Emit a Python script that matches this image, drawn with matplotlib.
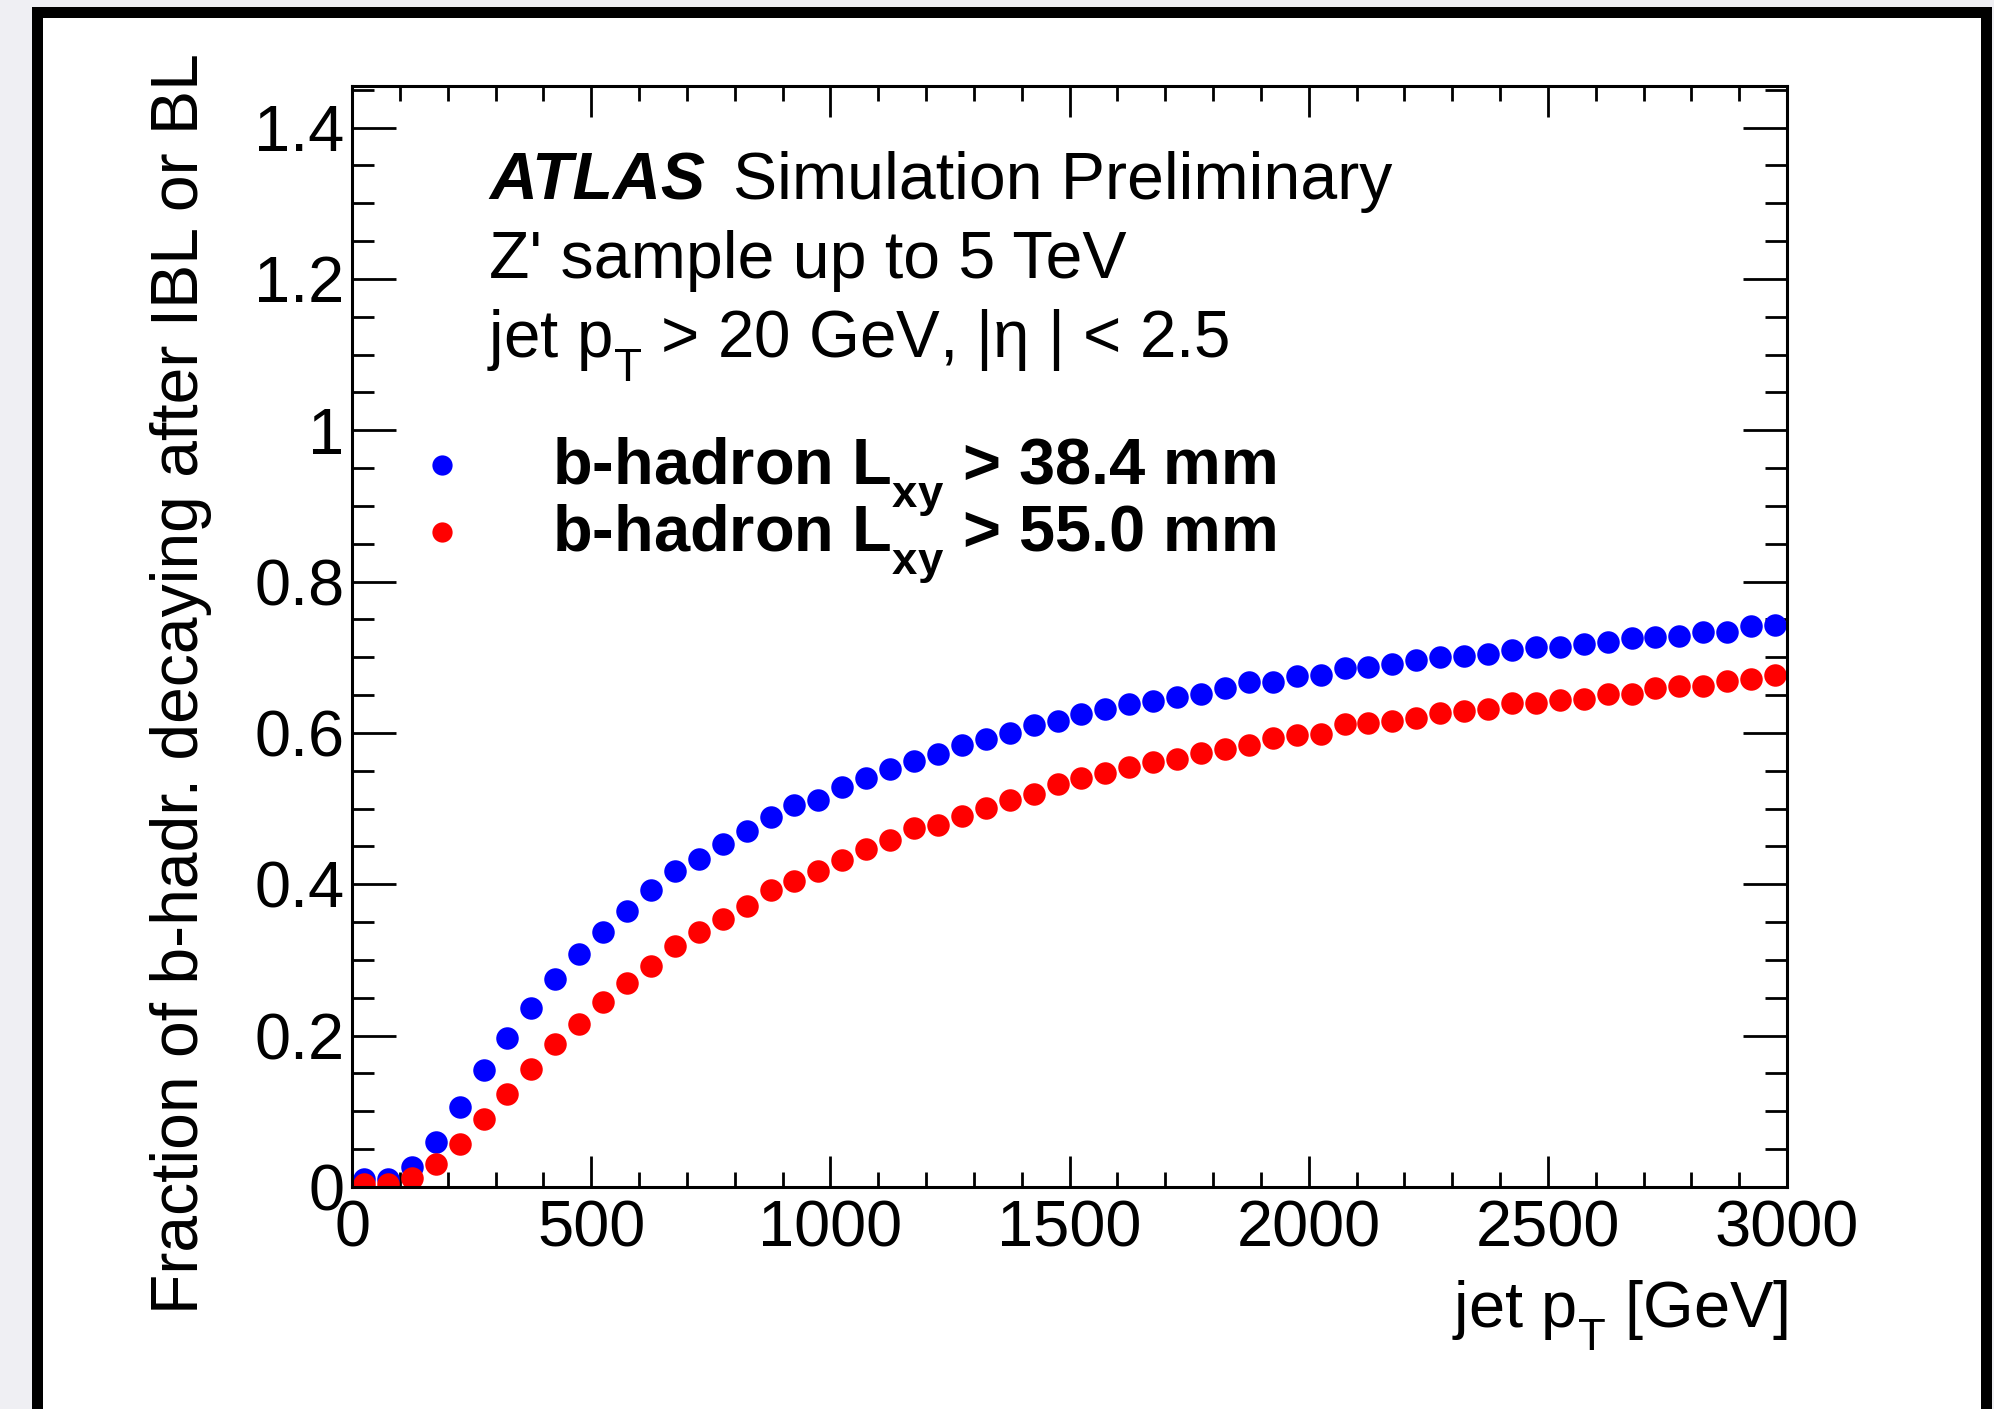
import matplotlib
matplotlib.use("Agg")
import matplotlib.pyplot as plt
from matplotlib.patches import Rectangle
from matplotlib.ticker import FixedLocator, FixedFormatter, MultipleLocator

# deeper subscripts, as in ROOT's TLatex
try:
    import matplotlib._mathtext as _mt
    _mt.FontConstantsBase.sub1 = 0.7
except Exception:
    pass

plt.rcParams['font.family'] = ['Liberation Sans', 'DejaVu Sans']
plt.rcParams['mathtext.fontset'] = 'custom'
plt.rcParams['mathtext.rm'] = 'Liberation Sans'
plt.rcParams['mathtext.it'] = 'Liberation Sans:italic'
plt.rcParams['mathtext.bf'] = 'Liberation Sans:bold'

# ---------------- data ----------------
jet_pt = [25, 75, 125, 175, 225, 275, 325, 375, 425, 475,
          525, 575, 625, 675, 725, 775, 825, 875, 925, 975,
          1025, 1075, 1125, 1175, 1225, 1275, 1325, 1375, 1425, 1475,
          1525, 1575, 1625, 1675, 1725, 1775, 1825, 1875, 1925, 1975,
          2025, 2075, 2125, 2175, 2225, 2275, 2325, 2375, 2425, 2475,
          2525, 2575, 2625, 2675, 2725, 2775, 2825, 2875, 2925, 2975]

frac_lxy_38p4 = [0.010, 0.010, 0.027, 0.059, 0.106, 0.154, 0.197, 0.237, 0.275, 0.308,
                 0.337, 0.365, 0.392, 0.417, 0.433, 0.453, 0.471, 0.489, 0.505, 0.511,
                 0.529, 0.541, 0.552, 0.563, 0.572, 0.584, 0.592, 0.600, 0.610, 0.616,
                 0.625, 0.632, 0.638, 0.642, 0.647, 0.652, 0.659, 0.667, 0.668, 0.675,
                 0.676, 0.686, 0.687, 0.691, 0.696, 0.701, 0.702, 0.704, 0.710, 0.714,
                 0.714, 0.718, 0.720, 0.726, 0.727, 0.728, 0.733, 0.733, 0.741, 0.743]

frac_lxy_55p0 = [0.004, 0.004, 0.012, 0.030, 0.057, 0.090, 0.123, 0.156, 0.189, 0.215,
                 0.244, 0.269, 0.292, 0.318, 0.337, 0.354, 0.372, 0.392, 0.404, 0.418,
                 0.432, 0.447, 0.458, 0.474, 0.478, 0.490, 0.501, 0.511, 0.520, 0.532,
                 0.541, 0.547, 0.555, 0.561, 0.566, 0.574, 0.579, 0.584, 0.593, 0.597,
                 0.598, 0.612, 0.613, 0.616, 0.620, 0.626, 0.629, 0.632, 0.640, 0.640,
                 0.644, 0.645, 0.652, 0.652, 0.659, 0.662, 0.662, 0.669, 0.671, 0.676]

legend_labels = [r"b-hadron L$_{\mathregular{xy}}$ > 38.4 mm",
                 r"b-hadron L$_{\mathregular{xy}}$ > 55.0 mm"]

x_ticks = [0, 500, 1000, 1500, 2000, 2500, 3000]
x_ticklabels = ["0", "500", "1000", "1500", "2000", "2500", "3000"]
y_ticks = [0, 0.2, 0.4, 0.6, 0.8, 1.0, 1.2, 1.4]
y_ticklabels = ["0", "0.2", "0.4", "0.6", "0.8", "1", "1.2", "1.4"]

x_label = r"jet p$_{\mathregular{T}}$ [GeV]"
y_label = "Fraction of b-hadr. decaying after IBL or BL"
atlas_text = "ATLAS"
atlas_suffix = "Simulation Preliminary"
info_lines = ["Z' sample up to 5 TeV", r"jet p$_{\mathregular{T}}$ > 20 GeV, |η | < 2.5"]

# ---------------- figure ----------------
W, H = 1994, 1409
DPI = 100
FS = 46.8            # tick labels, legend, x title (points, ~65 px)
FS_T = 47.7          # annotation text
FS_Y = 47.6          # y title
FS_PX = FS * DPI / 72.0

fig = plt.figure(figsize=(W / DPI, H / DPI), dpi=DPI, facecolor='#efeff3')

# canvas frame (screenshot border)
frame = Rectangle((37 / W, -0.05), (1986 - 37) / W, (H - 12) / H + 0.05,
                  transform=fig.transFigure, facecolor='white', edgecolor='black',
                  linewidth=11 * 72 / DPI, zorder=-5)
fig.patches.append(frame)

ax_l, ax_r, ax_t, ax_b = 352, 1787, 86, 1187
ax = fig.add_axes([ax_l / W, 1 - ax_b / H, (ax_r - ax_l) / W, (ax_b - ax_t) / H])
ax.set_facecolor('white')

h_blue, = ax.plot(jet_pt, frac_lxy_38p4, linestyle='none', marker='o', markersize=16.2,
                  markerfacecolor='#0000ff', markeredgewidth=0, color='#0000ff')
h_red, = ax.plot(jet_pt, frac_lxy_55p0, linestyle='none', marker='o', markersize=16.2,
                 markerfacecolor='#ff0000', markeredgewidth=0, color='#ff0000')

ax.set_xlim(0, 3000)
ax.set_ylim(0, 1.455)

ax.xaxis.set_major_locator(FixedLocator(x_ticks))
ax.xaxis.set_major_formatter(FixedFormatter(x_ticklabels))
ax.yaxis.set_major_locator(FixedLocator(y_ticks))
ax.yaxis.set_major_formatter(FixedFormatter(y_ticklabels))
ax.xaxis.set_minor_locator(MultipleLocator(100))
ax.yaxis.set_minor_locator(MultipleLocator(0.05))

for s in ax.spines.values():
    s.set_linewidth(2.2)
ax.tick_params(which='both', direction='in', top=True, right=True, width=2.0,
               labelsize=FS, colors='black')
ax.tick_params(axis='y', which='major', length=32, pad=5.5)
ax.tick_params(axis='y', which='minor', length=16)
ax.tick_params(axis='x', which='major', length=22.3, pad=9)
ax.tick_params(axis='x', which='minor', length=10.8)

# axis titles
ax.set_xlabel(x_label, fontsize=FS)
ax.xaxis.label.set_ha('right')
ax.xaxis.label.set_va('baseline')
ax.xaxis.set_label_coords(1.0008, ((H - 1327) - (H - ax_b)) / (ax_b - ax_t))

ax.set_ylabel(y_label, fontsize=FS_Y)
ax.yaxis.label.set_ha('right')
ax.yaxis.label.set_va('baseline')
ax.yaxis.set_label_coords((198 - ax_l) / (ax_r - ax_l), ((H - 53) - (H - ax_b)) / (ax_b - ax_t))

# ATLAS label and info text
fig.text(489 / W, 1 - 199 / H, atlas_text, fontsize=FS_T, fontweight='bold',
         fontstyle='italic', va='baseline', ha='left')
fig.text(733 / W, 1 - 199 / H, atlas_suffix, fontsize=FS_T, va='baseline', ha='left')
fig.text(489 / W, 1 - 278 / H, info_lines[0], fontsize=FS_T, va='baseline', ha='left')
fig.text(487 / W, 1 - 357 / H, info_lines[1], fontsize=FS_T - 0.5, va='baseline', ha='left')

# legend (positions tuned after measuring)
leg_kw = dict(loc='upper left', frameon=False,
              prop=dict(family='Liberation Sans', weight='bold', size=FS),
              handlelength=1.0, handletextpad=1.19, handleheight=0.26,
              borderpad=0, borderaxespad=0, numpoints=1, markerscale=0.9,
              bbox_transform=fig.transFigure)
leg = ax.legend([h_blue, h_red], legend_labels, labelspacing=0.0,
                bbox_to_anchor=(409 / W, 1 - 430 / H), **leg_kw)
fig.canvas.draw()
r = fig.canvas.get_renderer()
b0 = leg.get_texts()[0].get_window_extent(r)
b1 = leg.get_texts()[1].get_window_extent(r)
d0 = b0.y0 - b1.y0
ls = (67 - d0) / FS_PX
leg.remove()
leg = ax.legend([h_blue, h_red], legend_labels, labelspacing=ls,
                bbox_to_anchor=(409 / W, 1 - 430 / H), **leg_kw)
fig.canvas.draw()
b0 = leg.get_texts()[0].get_window_extent(r)
dx = 552 - b0.x0
dy = (H - 435) - b0.y1
leg.set_bbox_to_anchor(((409 + dx) / W, (H - 430 + dy) / H), transform=fig.transFigure)

fig.savefig("out.png", dpi=DPI, facecolor=fig.get_facecolor())
